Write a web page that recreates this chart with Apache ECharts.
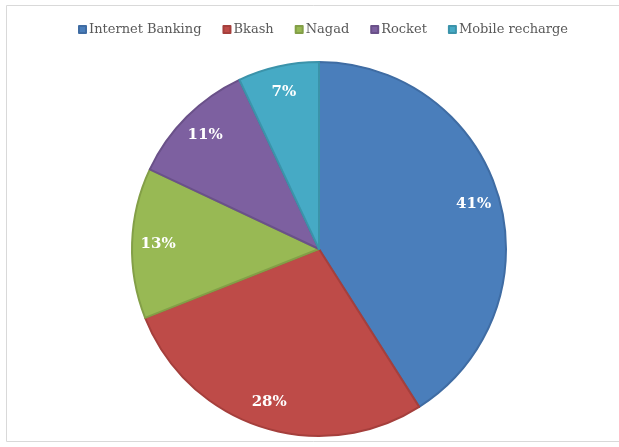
<!DOCTYPE html>
<html>
<head>
<meta charset="utf-8">
<script src="https://cdn.jsdelivr.net/npm/echarts@6/dist/echarts.min.js"></script>
<style>html,body{margin:0;padding:0;background:#fff;}#c{width:619px;height:447px;}</style>
</head>
<body>
<div id="c"></div>
<script>
const categories = ['Internet Banking', 'Bkash', 'Nagad', 'Rocket', 'Mobile recharge'];
const values = [41, 28, 13, 11, 7];
const colors = ['#4a7ebb', '#be4b48', '#98b954', '#7d60a0', '#46aac5'];
const edgeColors = ['#3f6ca3', '#a53f3c', '#839f47', '#6a5189', '#3b93aa'];

const chart = echarts.init(document.getElementById('c'), null, {renderer: 'canvas'});
const data = categories.map((n, i) => ({
  name: n, value: values[i],
  itemStyle: {color: colors[i], borderColor: edgeColors[i], borderWidth: 2}
}));
const labelData = categories.map((n, i) => ({name: n, value: values[i]}));
chart.setOption({
  animation: false,
  graphic: [{type: 'rect', shape: {x: 6.5, y: 5.5, width: 640, height: 436}, style: {fill: 'none', stroke: '#d9d9d9', lineWidth: 1}, z: -1}],
  legend: {
    top: 18, left: 73,
    itemWidth: 7, itemHeight: 7, itemGap: 21,
    icon: 'rect',
    textStyle: {fontFamily: 'DejaVu Serif', fontSize: 13, color: '#595959', padding: [0, 0, 0, -2]},
    data: categories
  },
  series: [{
    type: 'pie', center: [319, 249], radius: 187,
    startAngle: 90, clockwise: true, silent: true,
    label: {show: false}, labelLine: {show: false},
    data: data
  }, {
    type: 'pie', center: [319, 249], radius: [126, 190],
    startAngle: 90, clockwise: true, silent: true,
    itemStyle: {color: 'rgba(0,0,0,0)'},
    label: {show: true, position: 'inside', formatter: '{c}%', color: '#fff', fontFamily: 'DejaVu Serif', fontWeight: 'bold', fontSize: 15},
    labelLine: {show: false},
    data: labelData
  }]
});
</script>
</body>
</html>
